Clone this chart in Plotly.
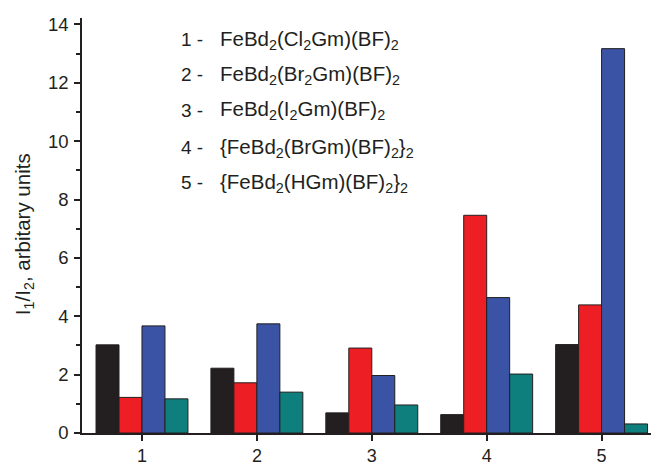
import plotly.graph_objects as go

categories = [1, 2, 3, 4, 5]
series_names = ["black", "red", "blue", "teal"]
s_black = [3.02, 2.22, 0.69, 0.63, 3.03]
s_red = [1.22, 1.72, 2.91, 7.46, 4.39]
s_blue = [3.67, 3.74, 1.97, 4.64, 13.17]
s_teal = [1.17, 1.40, 0.96, 2.02, 0.31]
colors = ["#231f20", "#ed1f24", "#3a53a4", "#0e7f7c"]
y_ticks = [0, 2, 4, 6, 8, 10, 12, 14]

legend_nums = ["1 -", "2 -", "3 -", "4 -", "5 -"]
legend_texts = [
    "FeBd<sub>2</sub>(Cl<sub>2</sub>Gm)(BF)<sub>2</sub>",
    "FeBd<sub>2</sub>(Br<sub>2</sub>Gm)(BF)<sub>2</sub>",
    "FeBd<sub>2</sub>(I<sub>2</sub>Gm)(BF)<sub>2</sub>",
    "{FeBd<sub>2</sub>(BrGm)(BF)<sub>2</sub>}<sub>2</sub>",
    "{FeBd<sub>2</sub>(HGm)(BF)<sub>2</sub>}<sub>2</sub>",
]
legend_y = [0.947, 0.863, 0.778, 0.687, 0.603]

FONT = "Liberation Sans, Arial, sans-serif"
TXT = "#231f20"

fig = go.Figure()
for name, vals, c in zip(series_names, [s_black, s_red, s_blue, s_teal], colors):
    fig.add_trace(go.Bar(x=categories, y=vals, name=name, marker=dict(color=c, line=dict(color="#231f20", width=1)),
                         showlegend=False))

for num, txt, yy in zip(legend_nums, legend_texts, legend_y):
    fig.add_annotation(x=0.170, y=yy, xref="paper", yref="paper", text=num, showarrow=False,
                       xanchor="left", yanchor="middle", font=dict(size=19, color=TXT, family=FONT))
    fig.add_annotation(x=0.239, y=yy, xref="paper", yref="paper", text=txt, showarrow=False,
                       xanchor="left", yanchor="middle", font=dict(size=20.5, color=TXT, family=FONT))

fig.add_annotation(x=-0.103, y=0.48, xref="paper", yref="paper",
                   text="I<sub>1</sub>/I<sub>2</sub>, arbitary units", textangle=-90, showarrow=False,
                   xanchor="center", yanchor="middle", font=dict(size=20.5, color=TXT, family=FONT))

fig.update_layout(
    width=652, height=466,
    margin=dict(l=82, r=1, t=18, b=32.5, autoexpand=False),
    paper_bgcolor="white", plot_bgcolor="white",
    barmode="group", bargap=0.2, bargroupgap=0,
    font=dict(family=FONT, size=18, color=TXT),
)
fig.update_xaxes(range=[0.478, 5.43], tickvals=categories, ticktext=[str(c) for c in categories],
                 showline=True, linecolor=TXT, linewidth=1.5, ticks="outside", ticklen=6, tickwidth=1.5,
                 tickcolor=TXT, showgrid=False, zeroline=False, tickfont=dict(size=18, color=TXT),
                 ticklabelstandoff=0, automargin=False)
fig.update_yaxes(range=[0, 14.22], tickvals=y_ticks, showline=True, linecolor=TXT, linewidth=1.5,
                 ticks="outside", ticklen=6, tickwidth=1.5, tickcolor=TXT, showgrid=False, zeroline=False,
                 minor=dict(tickvals=[1, 3, 5, 7, 9, 11, 13], ticks="outside", ticklen=4, tickwidth=1.5, tickcolor=TXT),
                 tickfont=dict(size=18.5, color=TXT), ticklabelstandoff=2, automargin=False)

fig.write_html("out.html", config={"displayModeBar": False})

# remove the browser's default page margin so the figure sits at the top-left corner
with open("out.html", "r", encoding="utf-8") as f:
    html = f.read()
html = html.replace("<head>", "<head><style>html,body{margin:0;padding:0;overflow:hidden;}</style>", 1)
with open("out.html", "w", encoding="utf-8") as f:
    f.write(html)
